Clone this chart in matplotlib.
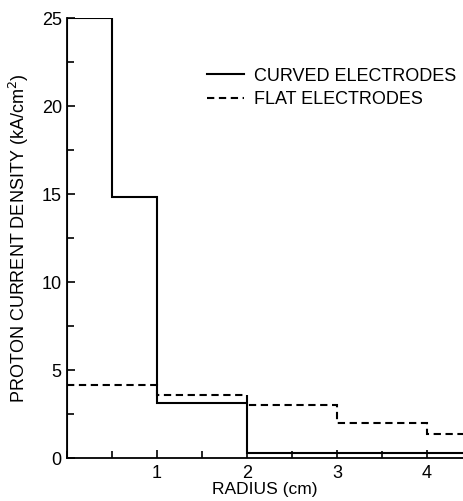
import matplotlib.pyplot as plt
from matplotlib.ticker import MultipleLocator

# radius bin edges (cm) and current density (kA/cm^2)
curved_edges = [0, 0.5, 1, 2, 4.4]
curved_vals = [25, 14.85, 3.15, 0.32]
flat_edges = [0, 1, 2, 3, 4, 4.4]
flat_vals = [4.15, 3.58, 3.05, 2.01, 1.36]

plt.rcParams['font.family'] = ['Liberation Sans', 'DejaVu Sans']

fig = plt.figure(figsize=(4.63, 5.01), dpi=100)
ax = fig.add_axes([0.144, 0.0852, 0.856, 0.8783])

ax.stairs(curved_vals, curved_edges, color='black', lw=1.5,
          label='CURVED ELECTRODES', baseline=None)
ax.stairs(flat_vals, flat_edges, color='black', lw=1.5, ls=(0, (3.5, 2.2)),
          label='FLAT ELECTRODES', baseline=None)
# vertical drop at x=0 for curved
ax.plot([0, 0], [0, curved_vals[0]], color='black', lw=1.5)

ax.set_xlim(0, 4.4)
ax.set_ylim(0, 25)
ax.spines['top'].set_visible(False)
ax.spines['right'].set_visible(False)
ax.spines['left'].set_linewidth(1.3)
ax.spines['bottom'].set_linewidth(1.3)

ax.set_xticks([1, 2, 3, 4])
ax.set_xticklabels(['1', '2', '3', '4'])
ax.xaxis.set_minor_locator(MultipleLocator(0.5))
ax.set_yticks([0, 5, 10, 15, 20, 25])
ax.yaxis.set_minor_locator(MultipleLocator(2.5))
ax.tick_params(which='both', direction='in', labelsize=13, width=1.2)
ax.tick_params(which='major', length=6)
ax.tick_params(which='minor', length=5)
ax.tick_params(axis='x', pad=5)

ax.set_xlabel('RADIUS (cm)', fontsize=12.5, labelpad=0)
ax.set_ylabel('PROTON CURRENT DENSITY (kA/cm$^2$)', fontsize=13, labelpad=8)

ax.legend(loc='upper right', bbox_to_anchor=(1.025, 0.925), frameon=False,
          fontsize=13, handlelength=2.0, handletextpad=0.6, labelspacing=0.35)

fig.savefig('out.png', dpi=100)
